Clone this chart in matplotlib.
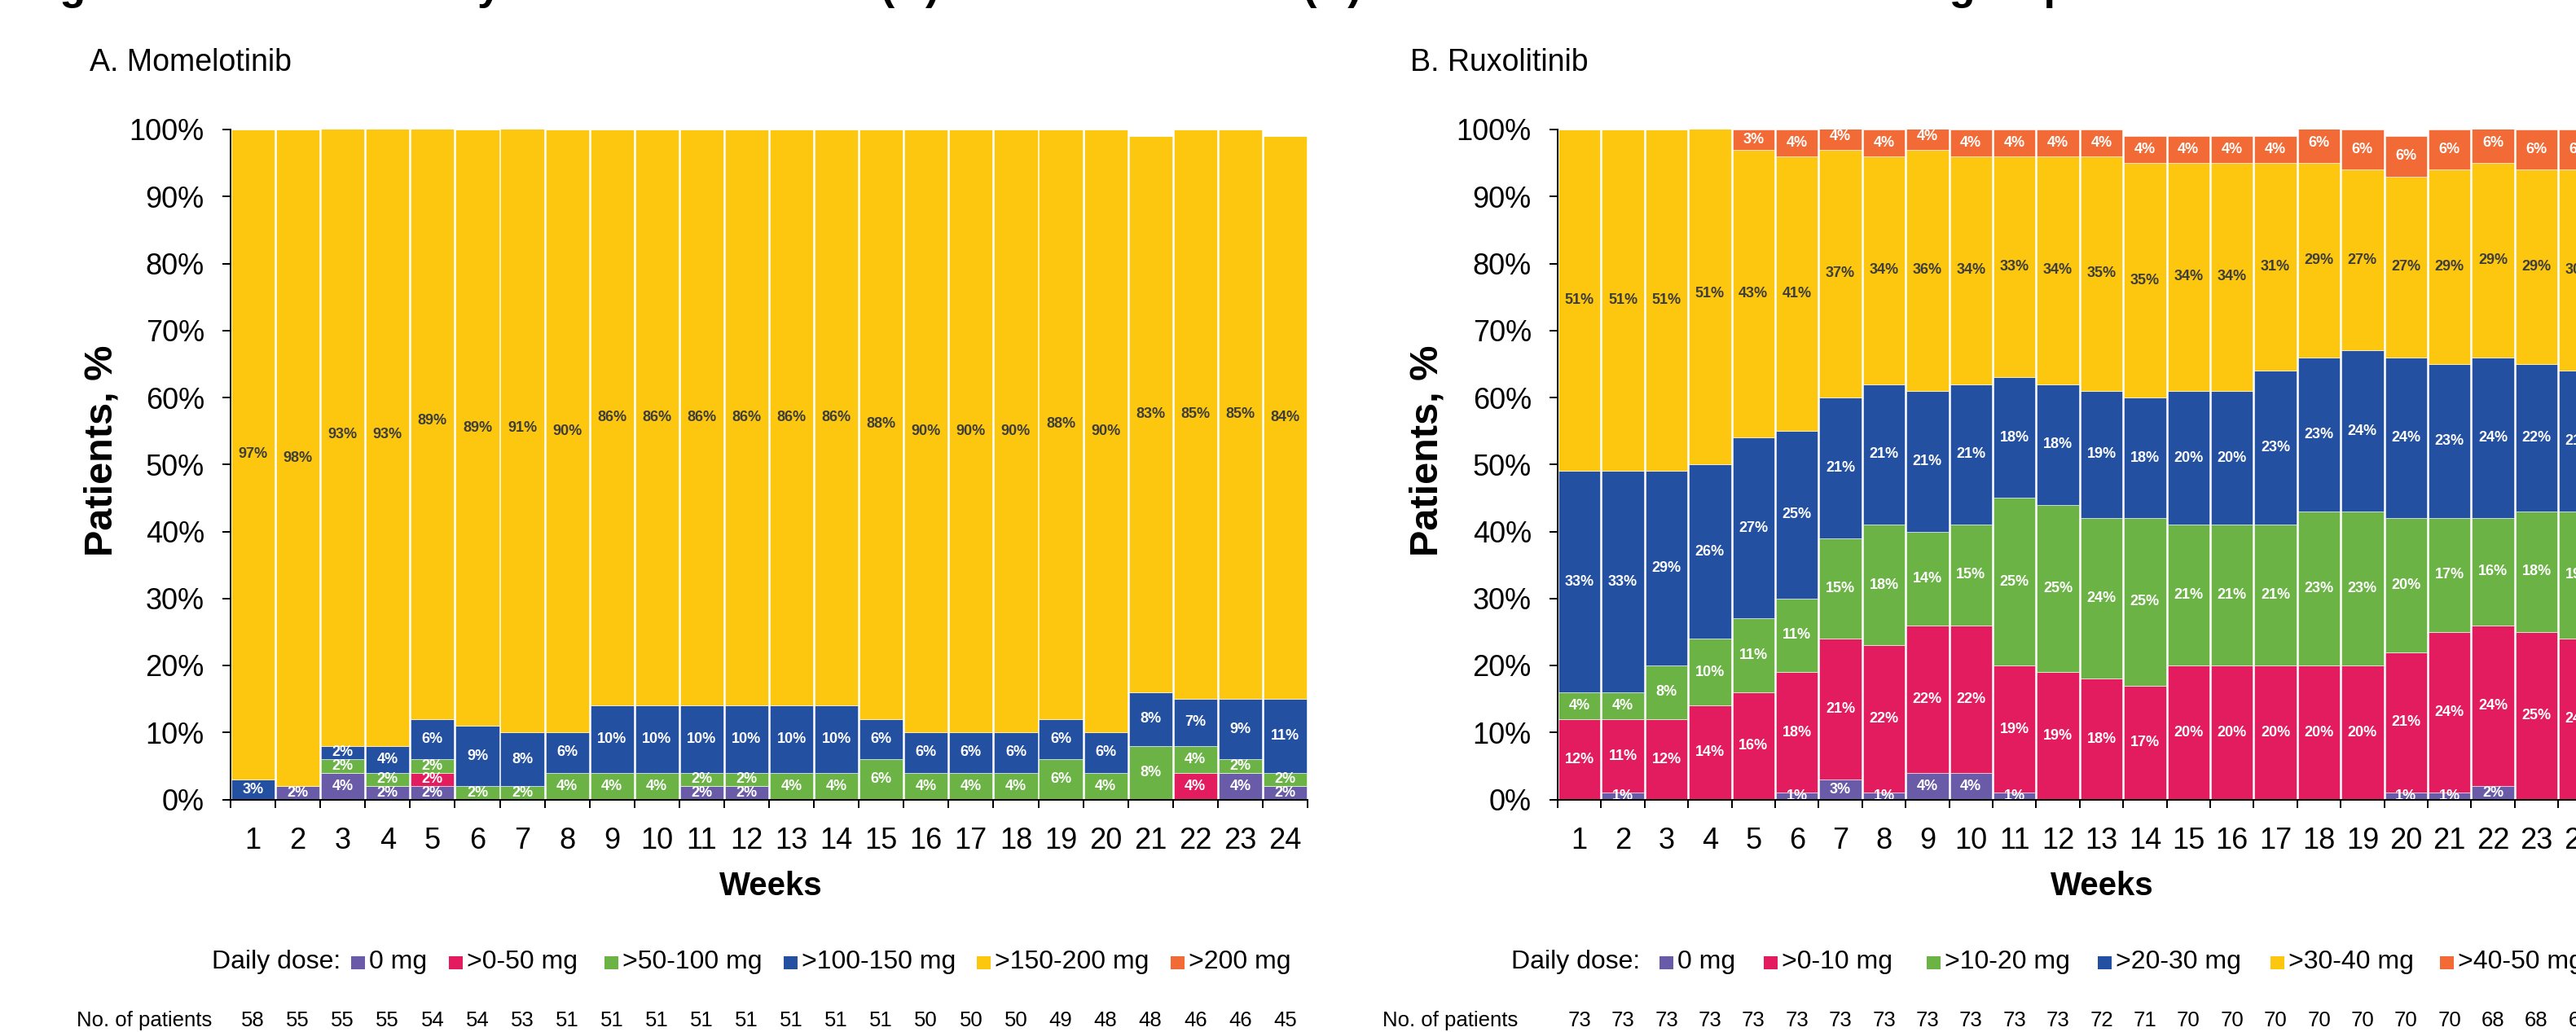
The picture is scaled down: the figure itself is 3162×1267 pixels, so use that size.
import matplotlib
matplotlib.use("Agg")
import matplotlib.pyplot as plt
import matplotlib.transforms as mtransforms
from matplotlib.patches import Rectangle
import numpy as np

plt.rcParams['font.family'] = ['Liberation Sans', 'DejaVu Sans']

W, H = 3162, 1267
DPI = 100

weeks = list(range(1, 25))

# ---- Momelotinib: % of patients in each daily-dose band, by week ----
mmb_bands = ["0 mg", ">0-50 mg", ">50-100 mg", ">100-150 mg", ">150-200 mg", ">200 mg"]
mmb_0mg     = [0, 2, 4, 2, 2, 0, 0, 0, 0, 0, 2, 2, 0, 0, 0, 0, 0, 0, 0, 0, 0, 0, 4, 2]
mmb_0_50    = [0, 0, 0, 0, 2, 0, 0, 0, 0, 0, 0, 0, 0, 0, 0, 0, 0, 0, 0, 0, 0, 4, 0, 0]
mmb_50_100  = [0, 0, 2, 2, 2, 2, 2, 4, 4, 4, 2, 2, 4, 4, 6, 4, 4, 4, 6, 4, 8, 4, 2, 2]
mmb_100_150 = [3, 0, 2, 4, 6, 9, 8, 6, 10, 10, 10, 10, 10, 10, 6, 6, 6, 6, 6, 6, 8, 7, 9, 11]
mmb_150_200 = [97, 98, 93, 93, 89, 89, 91, 90, 86, 86, 86, 86, 86, 86, 88, 90, 90, 90, 88, 90, 83, 85, 85, 84]
mmb_over200 = [0] * 24
mmb_patients = [58, 55, 55, 55, 54, 54, 53, 51, 51, 51, 51, 51, 51, 51, 51, 50, 50, 50, 49, 48, 48, 46, 46, 45]

# ---- Ruxolitinib: % of patients in each daily-dose band, by week ----
rux_bands = ["0 mg", ">0-10 mg", ">10-20 mg", ">20-30 mg", ">30-40 mg", ">40-50 mg"]
rux_0mg   = [0, 1, 0, 0, 0, 1, 3, 1, 4, 4, 1, 0, 0, 0, 0, 0, 0, 0, 0, 1, 1, 2, 0, 0]
rux_0_10  = [12, 11, 12, 14, 16, 18, 21, 22, 22, 22, 19, 19, 18, 17, 20, 20, 20, 20, 20, 21, 24, 24, 25, 24]
rux_10_20 = [4, 4, 8, 10, 11, 11, 15, 18, 14, 15, 25, 25, 24, 25, 21, 21, 21, 23, 23, 20, 17, 16, 18, 19]
rux_20_30 = [33, 33, 29, 26, 27, 25, 21, 21, 21, 21, 18, 18, 19, 18, 20, 20, 23, 23, 24, 24, 23, 24, 22, 21]
rux_30_40 = [51, 51, 51, 51, 43, 41, 37, 34, 36, 34, 33, 34, 35, 35, 34, 34, 31, 29, 27, 27, 29, 29, 29, 30]
rux_40_50 = [0, 0, 0, 0, 3, 4, 4, 4, 4, 4, 4, 4, 4, 4, 4, 4, 4, 6, 6, 6, 6, 6, 6, 6]
rux_patients = [73] * 12 + [72, 71, 70, 70, 70, 70, 70, 70, 70, 68, 68, 68]

band_colors = ['#6A5BA8', '#E31B5F', '#6AB344', '#2350A1', '#FDC70F', '#F26A35']
dark_text = '#3D3D3D'


def px_x(x):
    return x / W


def px_y(y):
    return 1 - y / H


fig = plt.figure(figsize=(W / DPI, H / DPI), dpi=DPI)
fig.patch.set_facecolor('white')

AX_TOP, AX_BOT = 159, 981.5
ax_h = (AX_BOT - AX_TOP) / H
ax_a = fig.add_axes([px_x(283), px_y(AX_BOT), (1605 - 283) / W, ax_h])
ax_b = fig.add_axes([px_x(1912), px_y(AX_BOT), (24 * 53.4) / W, ax_h])


def draw_panel(ax, series, patients):
    bottom = np.zeros(len(weeks))
    for vals, color in zip(series, band_colors):
        vals = np.asarray(vals, dtype=float)
        ax.bar(weeks, vals, width=0.965, bottom=bottom, color=color,
               edgecolor='white', linewidth=0.4, zorder=2)
        txt_color = dark_text if color == '#FDC70F' else 'white'
        for x, b, v in zip(weeks, bottom, vals):
            if v > 0:
                ax.text(x, b + v / 2, f"{v:.0f}%", ha='center', va='center',
                        fontsize=13, fontweight='bold', color=txt_color,
                        clip_on=True, zorder=3)
        bottom += vals

    ax.set_xlim(0.5, 24.5)
    ax.set_ylim(0, 100)
    ax.set_xticks(np.arange(0.5, 25, 1))
    ax.set_xticklabels([])
    ax.set_xticks(weeks, minor=True)
    ax.set_xticklabels([str(w) for w in weeks], minor=True)
    ax.tick_params(axis='x', which='major', length=7.2, width=1.44,
                   direction='out', color='black')
    ax.tick_params(axis='x', which='minor', length=0, pad=24,
                   labelsize=26)
    ax.set_yticks(range(0, 101, 10))
    ax.set_yticklabels([f"{v}%" for v in range(0, 101, 10)])
    ax.tick_params(axis='y', length=7.2, width=1.44, pad=16,
                   labelsize=26, direction='out')
    for side in ('top', 'right'):
        ax.spines[side].set_visible(False)
    for side in ('left', 'bottom'):
        ax.spines[side].set_linewidth(1.44)
        ax.spines[side].set_zorder(4)

    # patient counts under each week
    trans = mtransforms.blended_transform_factory(ax.transData, fig.transFigure)
    for x, n in zip(weeks, patients):
        ax.text(x, px_y(1260), str(n), transform=trans, ha='center',
                va='baseline', fontsize=18.5, clip_on=False)


draw_panel(ax_a, [mmb_0mg, mmb_0_50, mmb_50_100, mmb_100_150, mmb_150_200, mmb_over200],
           mmb_patients)
draw_panel(ax_b, [rux_0mg, rux_0_10, rux_10_20, rux_20_30, rux_30_40, rux_40_50],
           rux_patients)

# Figure title (sits above the top edge of the canvas)
fig.text(px_x(27), 1 + 1 / H,
         "Figure 2. Dose intensity over 24 weeks for (A) momelotinib and "
         "(B) ruxolitinib in the anemic subgroup",
         fontsize=37.5, fontweight='bold', ha='left', va='baseline')

# Panel titles
fig.text(px_x(110), px_y(87), "A. Momelotinib", fontsize=27, va='baseline')
fig.text(px_x(1731), px_y(87), "B. Ruxolitinib", fontsize=27, va='baseline')

# Axis titles
for xc in (125, 1752):
    fig.text(px_x(xc), px_y(553), "Patients, %", rotation=90, ha='center',
             va='center', fontsize=35, fontweight='bold')
for xc in (946, 2580):
    fig.text(px_x(xc), px_y(1088), "Weeks", ha='center', va='center',
             fontsize=29, fontweight='bold')


def draw_legend(label_x, square_xs, bands):
    fig.text(px_x(label_x), px_y(1189), "Daily dose:", fontsize=23, va='baseline')
    for sx, band, color in zip(square_xs, bands, band_colors):
        fig.add_artist(Rectangle((px_x(sx), px_y(1190)), 17 / W, 16 / H,
                                 transform=fig.transFigure, facecolor=color,
                                 edgecolor='none'))
        fig.text(px_x(sx + 22), px_y(1189), band, fontsize=23, va='baseline')


draw_legend(260, [431, 551, 742, 962, 1199, 1437], mmb_bands)
draw_legend(1855, [2037, 2165, 2365, 2575, 2787, 2995], rux_bands)

fig.text(px_x(94), px_y(1260), "No. of patients", fontsize=18.5, va='baseline')
fig.text(px_x(1697), px_y(1260), "No. of patients", fontsize=18.5, va='baseline')

fig.savefig("out.png", dpi=DPI)
